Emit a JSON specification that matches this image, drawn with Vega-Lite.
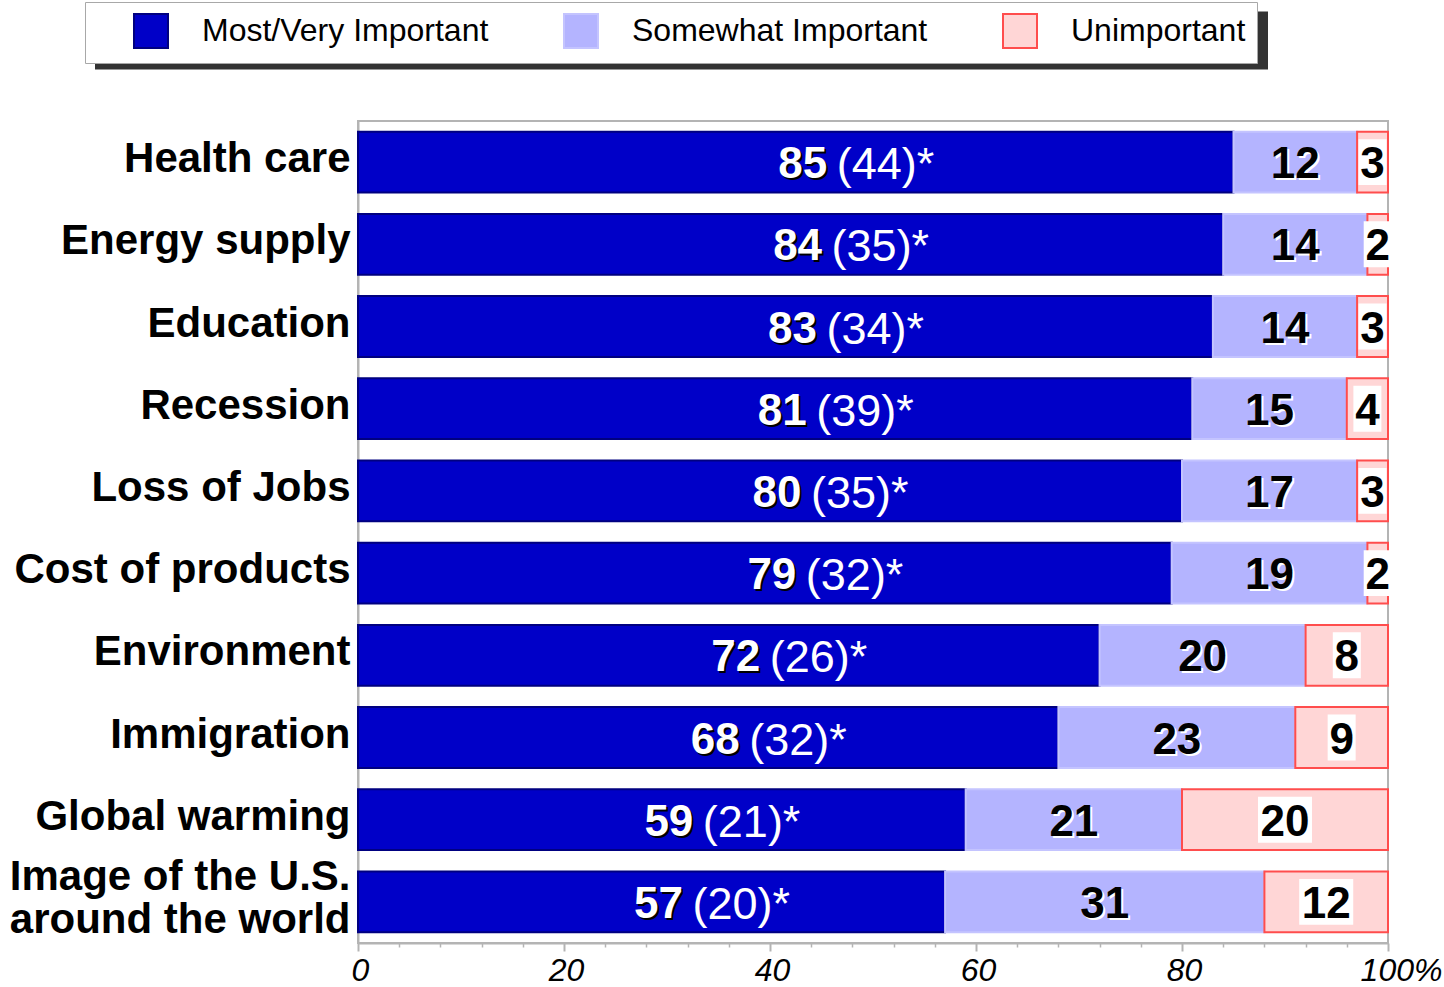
{
  "$schema": "https://vega.github.io/schema/vega-lite/v6.json",
  "width": 1030,
  "height": 822,
  "autosize": {"type": "none"},
  "padding": {"left": 358, "top": 121, "right": 56, "bottom": 44},
  "background": "white",
  "config": {
    "view": {"stroke": "#b4b4b4", "strokeWidth": 2},
    "font": "Liberation Sans"
  },
  "data": {
    "values": [
      {"item": "Health care", "resp": "Most/Very Important", "v": 85, "sub": "(44)*"},
      {"item": "Health care", "resp": "Somewhat Important", "v": 12, "sub": ""},
      {"item": "Health care", "resp": "Unimportant", "v": 3, "sub": ""},
      {"item": "Energy supply", "resp": "Most/Very Important", "v": 84, "sub": "(35)*"},
      {"item": "Energy supply", "resp": "Somewhat Important", "v": 14, "sub": ""},
      {"item": "Energy supply", "resp": "Unimportant", "v": 2, "sub": ""},
      {"item": "Education", "resp": "Most/Very Important", "v": 83, "sub": "(34)*"},
      {"item": "Education", "resp": "Somewhat Important", "v": 14, "sub": ""},
      {"item": "Education", "resp": "Unimportant", "v": 3, "sub": ""},
      {"item": "Recession", "resp": "Most/Very Important", "v": 81, "sub": "(39)*"},
      {"item": "Recession", "resp": "Somewhat Important", "v": 15, "sub": ""},
      {"item": "Recession", "resp": "Unimportant", "v": 4, "sub": ""},
      {"item": "Loss of Jobs", "resp": "Most/Very Important", "v": 80, "sub": "(35)*"},
      {"item": "Loss of Jobs", "resp": "Somewhat Important", "v": 17, "sub": ""},
      {"item": "Loss of Jobs", "resp": "Unimportant", "v": 3, "sub": ""},
      {"item": "Cost of products", "resp": "Most/Very Important", "v": 79, "sub": "(32)*"},
      {"item": "Cost of products", "resp": "Somewhat Important", "v": 19, "sub": ""},
      {"item": "Cost of products", "resp": "Unimportant", "v": 2, "sub": ""},
      {"item": "Environment", "resp": "Most/Very Important", "v": 72, "sub": "(26)*"},
      {"item": "Environment", "resp": "Somewhat Important", "v": 20, "sub": ""},
      {"item": "Environment", "resp": "Unimportant", "v": 8, "sub": ""},
      {"item": "Immigration", "resp": "Most/Very Important", "v": 68, "sub": "(32)*"},
      {"item": "Immigration", "resp": "Somewhat Important", "v": 23, "sub": ""},
      {"item": "Immigration", "resp": "Unimportant", "v": 9, "sub": ""},
      {"item": "Global warming", "resp": "Most/Very Important", "v": 59, "sub": "(21)*"},
      {"item": "Global warming", "resp": "Somewhat Important", "v": 21, "sub": ""},
      {"item": "Global warming", "resp": "Unimportant", "v": 20, "sub": ""},
      {"item": "Image of the U.S. around the world", "resp": "Most/Very Important", "v": 57, "sub": "(20)*"},
      {"item": "Image of the U.S. around the world", "resp": "Somewhat Important", "v": 31, "sub": ""},
      {"item": "Image of the U.S. around the world", "resp": "Unimportant", "v": 12, "sub": ""}
    ]
  },
  "transform": [
    {"stack": "v", "groupby": ["item"], "sort": [{"field": "resp", "order": "ascending"}], "as": ["x0", "x1"]},
    {"calculate": "(datum.x0 + datum.x1) / 2", "as": "mid"}
  ],
  "encoding": {
    "y": {
      "field": "item",
      "type": "nominal",
      "sort": ["Health care", "Energy supply", "Education", "Recession", "Loss of Jobs", "Cost of products", "Environment", "Immigration", "Global warming", "Image of the U.S. around the world"],
      "scale": {"paddingInner": 0.26, "paddingOuter": 0.13},
      "axis": {
        "title": null,
        "ticks": false,
        "domain": true,
        "domainColor": "#b4b4b4",
        "domainWidth": 2,
        "labelFont": "Liberation Sans",
        "labelFontWeight": "bold",
        "labelFontSize": 42,
        "labelColor": "black",
        "labelPadding": 8,
        "labelLimit": 400,
        "labelLineHeight": 43,
        "labelOffset": {"condition": {"test": "datum.value === 'Image of the U.S. around the world'", "value": -25}, "value": -3},
        "labelExpr": "datum.value === 'Image of the U.S. around the world' ? ['Image of the U.S.', 'around the world'] : datum.value"
      }
    }
  },
  "resolve": {"axis": {"x": "independent"}},
  "layer": [
    {
      "mark": {"type": "bar", "strokeWidth": 2},
      "encoding": {
        "x": {
          "field": "x0",
          "type": "quantitative",
          "scale": {"domain": [0, 100], "nice": false},
          "axis": {
            "orient": "bottom",
            "title": null,
            "grid": false,
            "values": [0, 20, 40, 60, 80, 100],
            "tickSize": 8,
            "tickWidth": 2,
            "tickColor": "#b4b4b4",
            "domainColor": "#b4b4b4",
            "domainWidth": 2,
            "labelFont": "Liberation Sans",
            "labelFontStyle": "italic",
            "labelFontSize": 32,
            "labelColor": "black",
            "labelPadding": 4,
            "labelFlush": false,
            "labelOverlap": false,
            "labelOffset": {"condition": {"test": "datum.value === 100", "value": 13}, "value": 2},
            "labelExpr": "datum.value === 100 ? '100%' : datum.label"
          }
        },
        "x2": {"field": "x1"},
        "fill": {
          "field": "resp",
          "type": "nominal",
          "scale": {
            "domain": ["Most/Very Important", "Somewhat Important", "Unimportant"],
            "range": ["#0000c8", "#b4b4ff", "#ffd6d6"]
          },
          "legend": {
            "title": null,
            "orient": "none",
            "direction": "horizontal",
            "legendX": -273,
            "legendY": -119,
            "zindex": 2,
            "fillColor": "white",
            "strokeColor": "#a8a8a8",
            "padding": 11,
            "symbolType": "square",
            "symbolSize": 1156,
            "symbolStrokeWidth": 2,
            "symbolOffset": 37,
            "labelFont": "Liberation Sans",
            "labelFontSize": 32,
            "labelColor": "black",
            "labelOffset": 33,
            "labelLimit": 500,
            "columnPadding": 37,
            "gridAlign": "each"
          }
        },
        "stroke": {
          "field": "resp",
          "type": "nominal",
          "scale": {
            "domain": ["Most/Very Important", "Somewhat Important", "Unimportant"],
            "range": ["#000080", "#c4c4ff", "#ff4d4d"]
          },
          "legend": null
        }
      }
    },
    {
      "transform": [{"filter": "datum.resp === 'Unimportant'"}],
      "mark": {"type": "point", "filled": true, "color": "white", "opacity": 1, "strokeWidth": 0},
      "encoding": {
        "x": {
          "field": "mid",
          "type": "quantitative",
          "axis": {
            "orient": "bottom",
            "title": null,
            "grid": false,
            "labels": false,
            "domain": false,
            "values": [4, 8, 12, 16, 24, 28, 32, 36, 44, 48, 52, 56, 64, 68, 72, 76, 84, 88, 92, 96],
            "tickSize": 4,
            "tickWidth": 1.5,
            "tickColor": "#b4b4b4"
          }
        },
        "size": {"value": 784},
        "shape": {"condition": {"test": "datum.v >= 10", "value": "M-1.93,-1.64H1.93V1.64H-1.93Z"}, "value": "M-1,-1.64H1V1.64H-1Z"}
      }
    },
    {
      "transform": [{"filter": "datum.resp === 'Most/Very Important'"}],
      "mark": {"type": "text", "font": "Liberation Sans", "fontWeight": "bold", "fontSize": 44, "color": "black", "align": "center", "baseline": "middle", "dx": 9, "dy": 5},
      "encoding": {"x": {"field": "mid", "type": "quantitative", "axis": null}, "text": {"field": "v"}}
    },
    {
      "transform": [{"filter": "datum.resp === 'Most/Very Important'"}],
      "mark": {"type": "text", "font": "Liberation Sans", "fontWeight": "bold", "fontSize": 44, "color": "white", "align": "center", "baseline": "middle", "dx": 7, "dy": 3},
      "encoding": {"x": {"field": "mid", "type": "quantitative", "axis": null}, "text": {"field": "v"}}
    },
    {
      "transform": [{"filter": "datum.resp === 'Most/Very Important'"}],
      "mark": {"type": "text", "font": "Liberation Sans", "fontWeight": "normal", "fontSize": 45, "color": "white", "align": "left", "baseline": "middle", "dx": 41, "dy": 3},
      "encoding": {"x": {"field": "mid", "type": "quantitative", "axis": null}, "text": {"field": "sub"}}
    },
    {
      "transform": [{"filter": "datum.resp === 'Somewhat Important'"}],
      "mark": {"type": "text", "font": "Liberation Sans", "fontWeight": "bold", "fontSize": 44, "color": "white", "align": "center", "baseline": "middle", "dx": 2, "dy": 5},
      "encoding": {"x": {"field": "mid", "type": "quantitative", "axis": null}, "text": {"field": "v"}}
    },
    {
      "transform": [{"filter": "datum.resp !== 'Most/Very Important'"}],
      "mark": {"type": "text", "font": "Liberation Sans", "fontWeight": "bold", "fontSize": 44, "color": "black", "align": "center", "baseline": "middle", "dx": 0, "dy": 3},
      "encoding": {"x": {"field": "mid", "type": "quantitative", "axis": null}, "text": {"field": "v"}}
    },
    {
      "data": {"values": [{"s": "shadow"}]},
      "mark": {"type": "point", "filled": true, "color": "#333333", "opacity": 1, "size": 1, "strokeWidth": 0},
      "encoding": {
        "y": {"value": 0},
        "shape": {
          "field": "s",
          "type": "nominal",
          "scale": {"range": ["M-1,-0.0495H1V0.0495H-1Z"]},
          "legend": {
            "title": null,
            "orient": "none",
            "direction": "horizontal",
            "legendX": -263,
            "legendY": -667,
            "zindex": 0,
            "padding": 0,
            "symbolSize": 1375929,
            "symbolOpacity": 1,
            "symbolFillColor": "#333333",
            "symbolStrokeColor": "#333333",
            "symbolStrokeWidth": 0,
            "symbolOffset": 0,
            "labelExpr": "''",
            "labelOffset": 0,
            "labelFontSize": 1
          }
        }
      }
    }
  ]
}
